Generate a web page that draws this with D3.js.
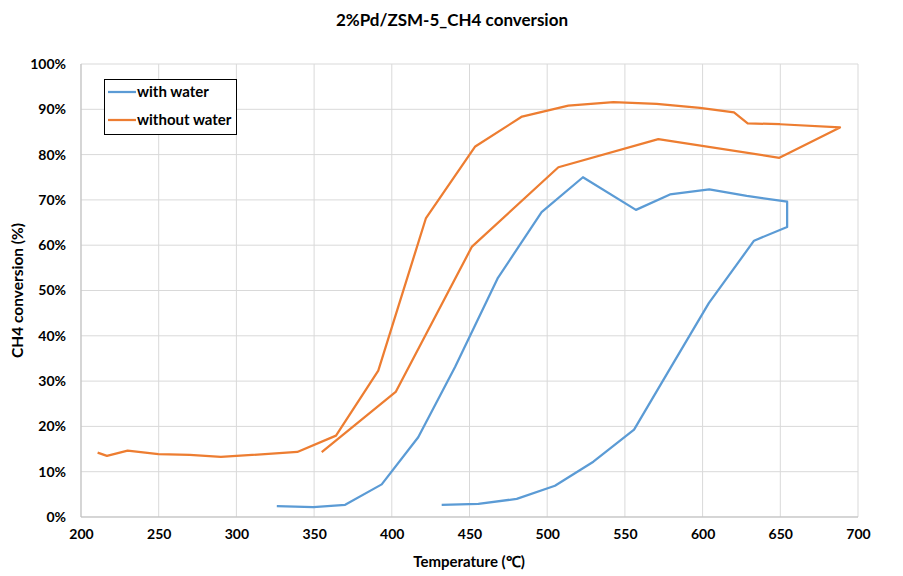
<!DOCTYPE html>
<html><head><meta charset="utf-8">
<script src="https://cdn.jsdelivr.net/npm/d3@7"></script>
<style>body{margin:0;background:#fff}svg{display:block}text{font-family:Lato,"Open Sans",sans-serif;font-weight:bold;fill:#000}</style>
</head><body><svg id="c" width="903" height="576"></svg>
<script>
const title = "2%Pd/ZSM-5_CH4 conversion";
const xTitle = "Temperature (℃)";
const yTitle = "CH4 conversion (%)";
const seriesNames = ["with water", "without water"];
const seriesColors = ["#5B9BD5", "#ED7D31"];
const xTicks = [200,250,300,350,400,450,500,550,600,650,700];
const yTicks = [0,10,20,30,40,50,60,70,80,90,100];
const withWaterT = [326,349.5,370,393.5,417,440.7,468.3,496.4,523,557.1,579,604.3,628.4,654.4,654.4,633.1,604,580,555.9,529.7,505,480.4,455.7,432.1];
const withWaterC = [2.4,2.2,2.7,7.2,17.6,33.1,52.8,67.3,75.0,67.8,71.2,72.3,70.9,69.6,64.0,61.0,47.2,33.3,19.3,12.2,6.9,4.0,2.9,2.65];
const withoutWaterT = [210.7,216.7,230,249.8,270,290,339.2,364.1,391.3,422,453.7,483.8,513.6,542.6,570.4,598.3,620.2,629,649.8,688.4,649.4,571.5,507.2,451.6,402.5,354.9];
const withoutWaterC = [14.2,13.5,14.65,13.9,13.7,13.26,14.36,17.97,32.3,66.0,81.8,88.4,90.8,91.6,91.2,90.3,89.3,86.9,86.7,86.0,79.3,83.4,77.2,59.7,27.6,14.3];

const svg = d3.select("#c");
const L=81,R=858,T=64,B=517;
const x = d3.scaleLinear().domain([200,700]).range([L,R]);
const y = d3.scaleLinear().domain([0,100]).range([B,T]);

const g = svg.append("g");
g.selectAll(".gx").data(xTicks).join("line").attr("x1",d=>x(d)).attr("x2",d=>x(d)).attr("y1",T).attr("y2",B).attr("stroke","#D9D9D9").attr("stroke-width",1);
g.selectAll(".gy").data(yTicks).join("line").attr("x1",L).attr("x2",R).attr("y1",d=>y(d)).attr("y2",d=>y(d)).attr("stroke","#D9D9D9").attr("stroke-width",1);
g.append("line").attr("x1",L).attr("x2",L).attr("y1",T).attr("y2",B).attr("stroke","#BFBFBF");
g.append("line").attr("x1",L).attr("x2",R).attr("y1",B).attr("y2",B).attr("stroke","#BFBFBF");

const xa = svg.append("g").attr("transform",`translate(0,${B})`).call(d3.axisBottom(x).tickValues(xTicks).tickSize(0).tickPadding(12).tickFormat(d3.format("d")));
xa.select(".domain").remove();
xa.selectAll("text").attr("font-size",14).attr("font-family","Lato").attr("font-weight","bold").attr("fill","#000");
const ya = svg.append("g").attr("transform",`translate(${L},0)`).call(d3.axisLeft(y).tickValues(yTicks).tickSize(0).tickPadding(15).tickFormat(d=>d+"%"));
ya.select(".domain").remove();
ya.selectAll("text").attr("font-size",14).attr("font-family","Lato").attr("font-weight","bold").attr("fill","#000");

const line = d3.line().x(d=>x(d[0])).y(d=>y(d[1]));
const data = [d3.zip(withWaterT,withWaterC), d3.zip(withoutWaterT,withoutWaterC)];
svg.selectAll(".s").data(data).join("path").attr("d",line).attr("fill","none").attr("stroke",(d,i)=>seriesColors[i]).attr("stroke-width",2.25).attr("stroke-linejoin","round");

svg.append("text").attr("x",452).attr("y",26).attr("text-anchor","middle").attr("font-size",17).text(title);
svg.append("text").attr("x",469).attr("y",567).attr("text-anchor","middle").attr("font-size",15).text(xTitle);
svg.append("text").attr("transform",`translate(23,${(T+B)/2}) rotate(-90)`).attr("text-anchor","middle").attr("font-size",15.5).text(yTitle);

const lg = svg.append("g");
lg.append("rect").attr("x",104.5).attr("y",79.5).attr("width",132).attr("height",55).attr("fill","#fff").attr("stroke","#000").attr("stroke-width",1);
seriesNames.forEach((n,i)=>{
  const cy = 92 + i*28;
  lg.append("line").attr("x1",108).attr("x2",136).attr("y1",cy).attr("y2",cy).attr("stroke",seriesColors[i]).attr("stroke-width",2.25);
  lg.append("text").attr("x",137).attr("y",cy+5).attr("font-size",15).text(n);
});
</script></body></html>
